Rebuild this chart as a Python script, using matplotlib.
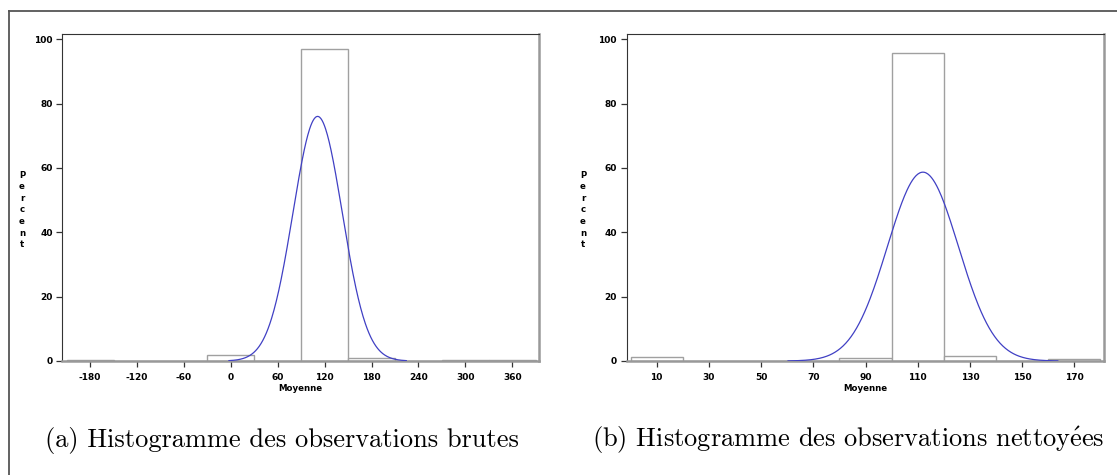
import matplotlib.pyplot as plt
from matplotlib.lines import Line2D
import numpy as np

plt.rcParams['mathtext.fontset'] = 'cm'

W, H = 1117, 475

# (a) raw observations: bins of width 60
raw_centers = [-180, -120, -60, 0, 60, 120, 180, 240, 300, 360]
raw_pct = [0.4, 0, 0, 1.8, 0, 96.8, 0.8, 0, 0.4, 0.4]
raw_mean, raw_sd = 111, 31.5

# (b) cleaned observations: bins of width 20
clean_centers = [10, 30, 50, 70, 90, 110, 130, 150, 170]
clean_pct = [1.3, 0, 0, 0, 0.8, 95.8, 1.7, 0, 0.7]
clean_mean, clean_sd = 112, 13.6

captions = ["(a) Histogramme des observations brutes",
            r"(b) Histogramme des observations nettoy$\acute{\mathrm{e}}$es"]


def hist_panel(ax, centers, pct, width, mean, sd, xlim, nsd):
    ax.bar(centers, pct, width=width, facecolor='white',
           edgecolor='#a0a0a0', linewidth=1.0, zorder=2)
    # fitted normal curve, scaled to percent per bin
    xs = np.linspace(mean - nsd * sd, mean + nsd * sd, 300)
    ys = width * 100 * np.exp(-0.5 * ((xs - mean) / sd) ** 2) / (sd * np.sqrt(2 * np.pi))
    ax.plot(xs, ys, color='#4040c4', lw=0.9, zorder=3)

    ax.set_xlim(*xlim)
    ax.set_ylim(0, 101.5)
    ax.set_xticks(centers)
    ax.set_yticks([0, 20, 40, 60, 80, 100])
    ax.tick_params(direction='out', length=4, width=0.9, color='#333333',
                   labelsize=6.5, pad=3)
    ax.tick_params(axis='x', pad=5)
    for lab in ax.get_xticklabels() + ax.get_yticklabels():
        lab.set_fontweight('bold')
    ax.xaxis.set_major_formatter(plt.FuncFormatter(lambda v, p: f"{v:.0f}"))
    ax.spines['left'].set_color('#333333')
    ax.spines['top'].set_color('#333333')
    ax.spines['right'].set_color('#999999')
    ax.spines['bottom'].set_color('#999999')
    ax.spines['right'].set_linewidth(1.8)
    ax.spines['bottom'].set_linewidth(1.8)
    ax.set_xlabel('Moyenne', fontsize=6.2, fontweight='bold', labelpad=1.0)


fig = plt.figure(figsize=(W / 100, H / 100), dpi=100)

ax1 = fig.add_axes([62.3 / W, 1 - 361 / H, 477 / W, (361 - 34.3) / H])
ax2 = fig.add_axes([626.7 / W, 1 - 361 / H, 477.6 / W, (361 - 34.3) / H])

hist_panel(ax1, raw_centers, raw_pct, 60, raw_mean, raw_sd, (-215.5, 394.5), 3.6)
hist_panel(ax2, clean_centers, clean_pct, 20, clean_mean, clean_sd, (-1.5, 181.5), 3.8)

# stacked "Percent" labels
for xp in (22, 583):
    fig.text(xp / W, 1 - 210 / H, "P\ne\nr\nc\ne\nn\nt", ha='center', va='center',
             fontsize=6.2, fontweight='bold', linespacing=1.38)

# captions
fig.text(282 / W, 1 - 440 / H, captions[0], ha='center', va='center',
         fontsize=19, family='cmr10')
fig.text(848 / W, 1 - 440 / H, captions[1], ha='center', va='center',
         fontsize=19, family='cmr10')

# outer frame (left and top edges visible)
fig.add_artist(Line2D([9 / W, 9 / W], [0, 1 - 11 / H], transform=fig.transFigure,
                      color='#555555', lw=1.3))
fig.add_artist(Line2D([9 / W, 1], [1 - 11 / H, 1 - 11 / H], transform=fig.transFigure,
                      color='#555555', lw=1.3))

plt.savefig('out.png', dpi=100)
